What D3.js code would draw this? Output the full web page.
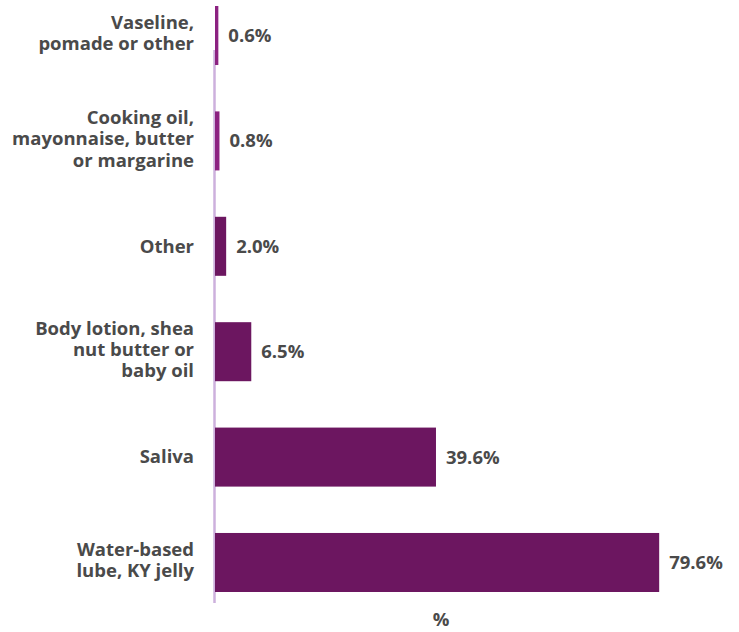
<!DOCTYPE html>
<html>
<head>
<meta charset="utf-8">
<script src="https://cdn.jsdelivr.net/npm/d3@7"></script>
<style>
  html, body { margin: 0; padding: 0; background: #fff; }
  svg { display: block; font-family: "Open Sans", "Noto Sans", sans-serif; }
</style>
</head>
<body>
<svg id="chart" width="739" height="632"></svg>
<script>
const categories = [
  ["Vaseline,", "pomade or other"],
  ["Cooking oil,", "mayonnaise, butter", "or margarine"],
  ["Other"],
  ["Body lotion, shea", "nut butter or", "baby oil"],
  ["Saliva"],
  ["Water-based", "lube, KY jelly"]
];
const values = [0.6, 0.8, 2.0, 6.5, 39.6, 79.6];
const valueLabels = ["0.6%", "0.8%", "2.0%", "6.5%", "39.6%", "79.6%"];
const highlight = [true, true, false, false, false, false];
const axisTitle = "%";

const svg = d3.select("#chart");
const ids = categories.map((c, i) => i);

const x = d3.scaleLinear().domain([0, 81]).range([215, 667]);
const y = d3.scaleBand().domain(ids).range([0, 598]).paddingInner(0.44).paddingOuter(0.057);

// axis line
svg.append("line")
  .attr("x1", 214.5).attr("x2", 214.5)
  .attr("y1", 50).attr("y2", 603)
  .attr("stroke", "#cdb0dd").attr("stroke-width", 2.5);

// bars
svg.selectAll("rect.bar").data(ids).join("rect")
  .attr("class", "bar")
  .attr("x", x(0))
  .attr("y", i => y(i))
  .attr("width", i => x(values[i]) - x(0))
  .attr("height", y.bandwidth())
  .attr("fill", i => highlight[i] ? "#8c2281" : "#6c1660");

// value labels
svg.selectAll("text.val").data(ids).join("text")
  .attr("class", "val")
  .attr("x", i => x(values[i]) + 10)
  .attr("y", i => y(i) + y.bandwidth() / 2)
  .attr("dy", "0.35em")
  .attr("font-size", 18.5)
  .attr("font-weight", 700)
  .attr("fill", "#4a4a4a")
  .text(i => valueLabels[i]);

// category labels (one text element per line)
const lh = 21.3;
const lineData = [];
ids.forEach(i => {
  const lines = categories[i];
  const cy = y(i) + y.bandwidth() / 2;
  const start = cy - (lines.length - 1) * lh / 2 + 6.3 - (lines.length > 1 ? 2 : 0);
  lines.forEach((t, k) => lineData.push({ t, yy: start + k * lh }));
});
svg.selectAll("text.cat").data(lineData).join("text")
  .attr("class", "cat")
  .attr("x", 194)
  .attr("y", d => d.yy)
  .attr("text-anchor", "end")
  .attr("font-size", 18.5)
  .attr("font-weight", 700)
  .attr("fill", "#4a4a4a")
  .text(d => d.t);

// axis title
svg.append("text")
  .attr("x", (x.range()[0] + x.range()[1]) / 2)
  .attr("y", 626)
  .attr("text-anchor", "middle")
  .attr("font-size", 18.5)
  .attr("font-weight", 700)
  .attr("fill", "#4a4a4a")
  .text(axisTitle);
</script>
</body>
</html>
